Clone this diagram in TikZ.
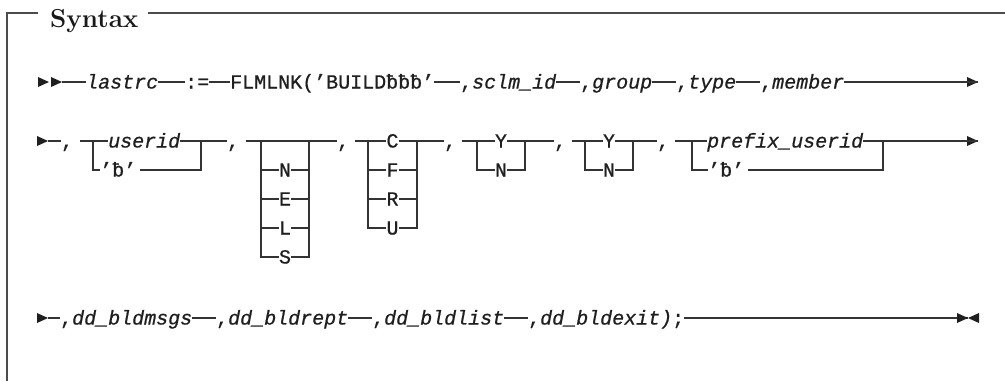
\documentclass[tikz,border=0pt]{standalone}
\usepackage{fontspec}
\setmonofont[FakeBold=0.7]{Liberation Mono}
\begin{document}
\begin{tikzpicture}[x=1pt,y=-1pt,
  ln/.style={line width=1.3pt, draw=black!80},
  fr/.style={line width=1.2pt, draw=black!70},
  kw/.style={inner sep=0pt, text height=13pt, text depth=0pt, anchor=west,
    font=\fontsize{20}{24}\selectfont\ttfamily, text=black!88},
  var/.style={kw, font=\fontsize{20}{24}\selectfont\ttfamily\itshape},
  ch/.style={kw, anchor=center},
  rtri/.pic={\fill[black!88] (-11,-5) -- (0,0) -- (-11,5) -- cycle;},
  ltri/.pic={\fill[black!88] (11,-5) -- (0,0) -- (11,5) -- cycle;},
]
\useasboundingbox (0,0) rectangle (1005,381);

% frame
\node[anchor=base west, inner sep=0pt, font=\bfseries\fontsize{26}{30}\selectfont, text=black!90] (syn) at (50,27) {Syntax};
\draw[fr] (38,13) -- (7,13) -- (7,381);
\draw[fr] (148,13) -- (1005,13);

% ---------------- row 1 ----------------
\pic at (49,82) {rtri};
\pic at (62,82) {rtri};
\coordinate (s1) at (62,82);
\node[var] (lastrc) at (86,82) {lastrc};
\node[kw] (assign) at (185,82) {:=};
\node[kw] (flm) at (230,82) {FLMLNK(’BUILDƀƀƀ’};
\node[kw] (sclm) at (460,82) {,\itshape sclm\_id};
\node[kw] (group) at (580,82) {,\itshape group};
\node[kw] (type) at (676,82) {,\itshape type};
\node[kw] (member) at (760,82) {,\itshape member};
\coordinate (e1) at (978,82);
\pic at (e1) {rtri};
\draw[ln] (s1) -- (lastrc.west);
\draw[ln] (lastrc.east) -- (assign.west);
\draw[ln] (assign.east) -- (flm.west);
\draw[ln] (flm.east) -- (sclm.west);
\draw[ln] (sclm.east) -- (group.west);
\draw[ln] (group.east) -- (type.west);
\draw[ln] (type.east) -- (member.west);
\draw[ln] (member.east) -- (e1);

% ---------------- row 2 ----------------
\pic at (48,141) {rtri};
\coordinate (s2) at (48,141);
\node[kw] (c21) at (61,141) {,\kern7pt};
\draw[ln] (s2) -- (c21.west);
% group 1
\coordinate (g1l) at (93,141);
\coordinate (g1r) at (201,141);
\node[var] (uid) at (108,141) {userid};
\node[kw] (b1) at (100,170) {’ƀ’};
\draw[ln] (c21.east) -- (g1l) -- (uid.west);
\draw[ln] (uid.east) -- (g1r);
\draw[ln] (g1l) |- (b1.west);
\draw[ln] ([xshift=4pt]b1.east) -| (g1r);
\node[kw] (c22) at (227,141) {,\kern7pt};
\draw[ln] (g1r) -- (c22.west);
% group 2
\coordinate (g2l) at (261,141);
\coordinate (g2r) at (309,141);
\node[ch] (oN) at (285,170) {N};
\node[ch] (oE) at (285,199) {E};
\node[ch] (oL) at (285,228) {L};
\node[ch] (oS) at (285,257) {S};
\node[kw] (c23) at (337,141) {,\kern6pt};
\draw[ln] (c22.east) -- (g2l) -- (g2r) -- (c23.west);
\draw[ln] (g2l) |- (oS.west);
\draw[ln] (oS.east) -| (g2r);
\draw[ln] (oN.west -| g2l) -- (oN.west);
\draw[ln] (oN.east) -- (oN.east -| g2r);
\draw[ln] (oE.west -| g2l) -- (oE.west);
\draw[ln] (oE.east) -- (oE.east -| g2r);
\draw[ln] (oL.west -| g2l) -- (oL.west);
\draw[ln] (oL.east) -- (oL.east -| g2r);
% group 3
\coordinate (g3l) at (368,141);
\coordinate (g3r) at (417,141);
\node[ch] (oC) at (392.5,141) {C};
\node[ch] (oF) at (392.5,170) {F};
\node[ch] (oR) at (392.5,199) {R};
\node[ch] (oU) at (392.5,228) {U};
\draw[ln] (c23.east) -- (g3l) -- (oC.west);
\draw[ln] (oC.east) -- (g3r);
\draw[ln] (g3l) |- (oU.west);
\draw[ln] (oU.east) -| (g3r);
\draw[ln] (oF.west -| g3l) -- (oF.west);
\draw[ln] (oF.east) -- (oF.east -| g3r);
\draw[ln] (oR.west -| g3l) -- (oR.west);
\draw[ln] (oR.east) -- (oR.east -| g3r);
\node[kw] (c24) at (444,141) {,\kern6pt};
\draw[ln] (g3r) -- (c24.west);
% group 4
\coordinate (g4l) at (477,141);
\coordinate (g4r) at (525,141);
\node[ch] (y1) at (501,141) {Y};
\node[ch] (n1) at (501,170) {N};
\draw[ln] (c24.east) -- (g4l) -- (y1.west);
\draw[ln] (y1.east) -- (g4r);
\draw[ln] (g4l) |- (n1.west);
\draw[ln] (n1.east) -| (g4r);
\node[kw] (c25) at (554,141) {,\kern6pt};
\draw[ln] (g4r) -- (c25.west);
% group 5
\coordinate (g5l) at (585,141);
\coordinate (g5r) at (633,141);
\node[ch] (y2) at (609,141) {Y};
\node[ch] (n2) at (609,170) {N};
\draw[ln] (c25.east) -- (g5l) -- (y2.west);
\draw[ln] (y2.east) -- (g5r);
\draw[ln] (g5l) |- (n2.west);
\draw[ln] (n2.east) -| (g5r);
\node[kw] (c26) at (657,141) {,\kern6pt};
\draw[ln] (g5r) -- (c26.west);
% group 6
\coordinate (g6l) at (692,141);
\coordinate (g6r) at (883,141);
\node[var] (pfx) at (707,141) {prefix\_userid};
\node[kw] (b2) at (708,170) {’ƀ’};
\draw[ln] (c26.east) -- (g6l) -- (pfx.west);
\draw[ln] (pfx.east) -- (g6r);
\draw[ln] (g6l) |- (b2.west);
\draw[ln] ([xshift=4pt]b2.east) -| (g6r);
\coordinate (e2) at (978,141);
\pic at (e2) {rtri};
\draw[ln] (g6r) -- (e2);

% ---------------- row 3 ----------------
\pic at (48,318) {rtri};
\coordinate (s3) at (48,318);
\node[kw] (msgs) at (60,318) {,\itshape dd\_bldmsgs};
\node[kw] (rept) at (216,318) {,\itshape dd\_bldrept};
\node[kw] (list) at (372,318) {,\itshape dd\_bldlist};
\node[kw] (exit) at (528,318) {,\itshape dd\_bldexit)\upshape;};
\coordinate (e3) at (968,318);
\draw[ln] (s3) -- (msgs.west);
\draw[ln] (msgs.east) -- (rept.west);
\draw[ln] (rept.east) -- (list.west);
\draw[ln] (list.east) -- (exit.west);
\draw[ln] (exit.east) -- (e3);
\pic at (e3) {rtri};
\pic at (e3) {ltri};
\end{tikzpicture}
\end{document}
